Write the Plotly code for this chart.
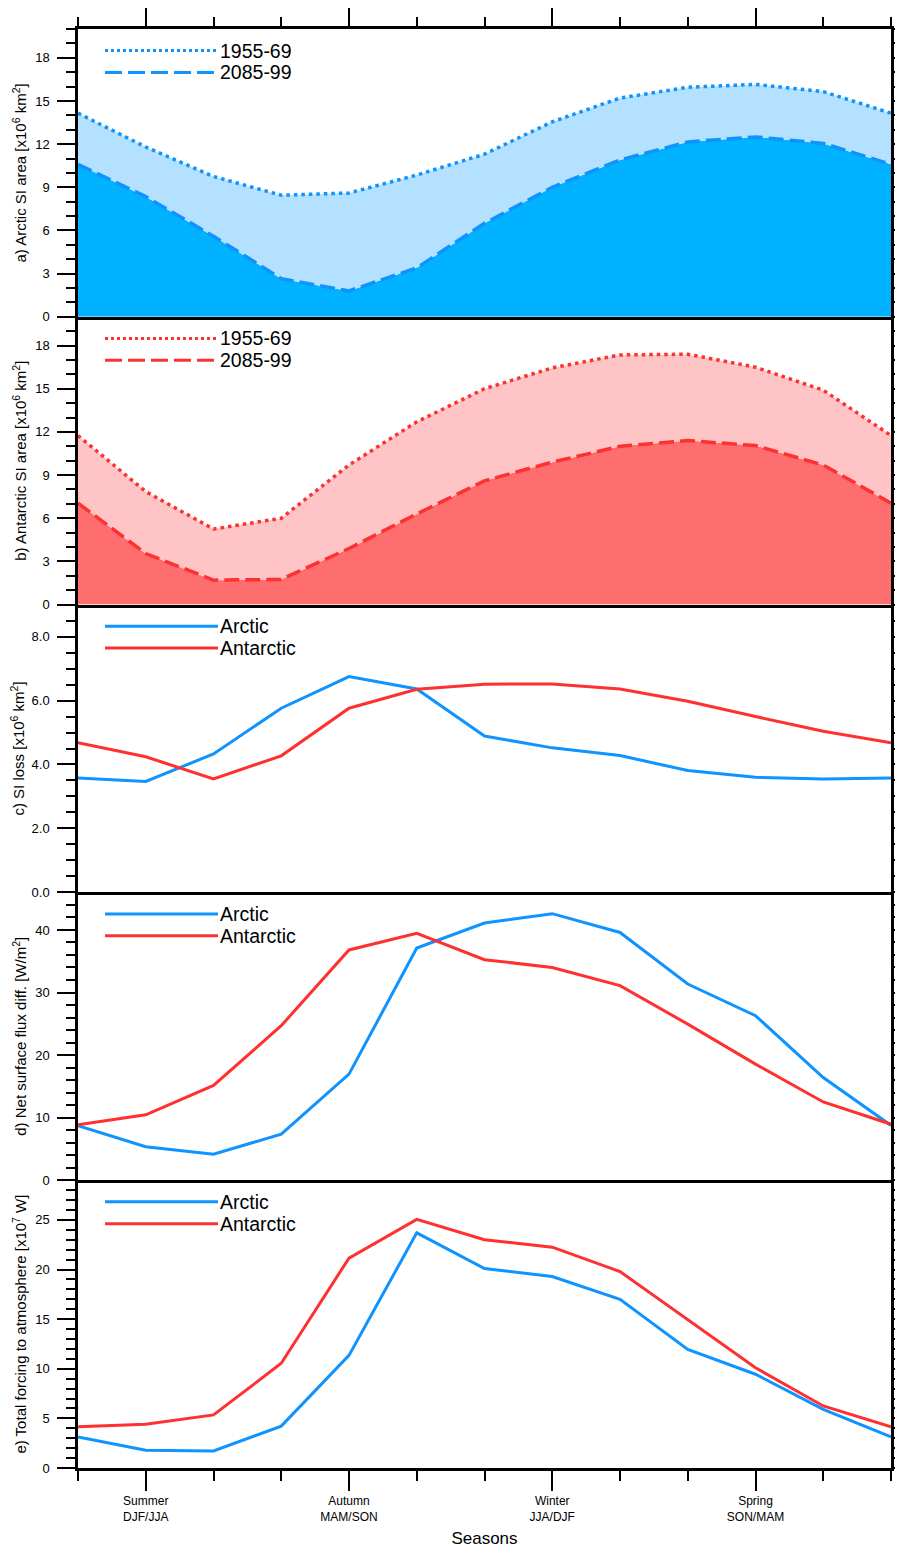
import plotly.graph_objects as go

# ---------------- data ----------------
x_idx = list(range(13))
season_tickvals = [1, 4, 7, 10]
season_ticktext = ["Summer<br>DJF/JJA", "Autumn<br>MAM/SON", "Winter<br>JJA/DJF", "Spring<br>SON/MAM"]

arctic_1955 = [14.15, 11.8, 9.75, 8.45, 8.6, 9.85, 11.3, 13.55, 15.2, 15.95, 16.15, 15.65, 14.15]
arctic_2085 = [10.6, 8.35, 5.6, 2.65, 1.8, 3.4, 6.5, 9.0, 10.9, 12.15, 12.5, 12.05, 10.6]

antarctic_1955 = [11.75, 7.85, 5.25, 6.0, 9.7, 12.7, 15.0, 16.45, 17.35, 17.4, 16.5, 14.9, 11.75]
antarctic_2085 = [7.05, 3.55, 1.7, 1.75, 3.9, 6.3, 8.6, 9.9, 11.0, 11.4, 11.05, 9.7, 7.05]

si_loss_arctic = [3.58, 3.47, 4.33, 5.76, 6.75, 6.36, 4.89, 4.52, 4.28, 3.81, 3.6, 3.55, 3.58]
si_loss_antarctic = [4.68, 4.24, 3.55, 4.27, 5.76, 6.35, 6.51, 6.52, 6.36, 5.98, 5.5, 5.04, 4.68]

flux_arctic = [8.7, 5.35, 4.15, 7.35, 16.95, 37.1, 41.1, 42.6, 39.6, 31.35, 26.3, 16.4, 8.75]
flux_antarctic = [8.85, 10.45, 15.15, 24.7, 36.8, 39.45, 35.25, 34.0, 31.1, 24.95, 18.55, 12.5, 8.95]

forcing_arctic = [3.13, 1.8, 1.72, 4.22, 11.35, 23.7, 20.1, 19.3, 17.0, 11.95, 9.45, 5.9, 3.13]
forcing_antarctic = [4.15, 4.4, 5.35, 10.55, 21.15, 25.05, 23.0, 22.25, 19.8, 14.95, 10.1, 6.25, 4.15]

y_titles = [
    "a) Arctic SI area [x10<sup>6</sup> km<sup>2</sup>]",
    "b) Antarctic SI area [x10<sup>6</sup> km<sup>2</sup>]",
    "c) SI loss [x10<sup>6</sup> km<sup>2</sup>]",
    "d) Net surface flux diff. [W/m<sup>2</sup>]",
    "e) Total forcing to atmosphere [x10<sup>7</sup> W]",
]
y_ranges = [[0, 20], [0, 20], [0, 9], [0, 46], [0, 29]]
y_dticks = [3, 3, 2, 10, 5]
y_minor = [1, 1, 0.5, 2, 1]
y_formats = ["d", "d", ".1f", "d", "d"]

period_labels = ["1955-69", "2085-99"]
region_labels = ["Arctic", "Antarctic"]

# ---------------- styles ----------------
FONT = "Liberation Sans, Arial, Helvetica, sans-serif"
BLUE = "#0F93FF"
BLUE_DARK_FILL = "#00B2FF"
BLUE_LIGHT_FILL = "#B3E1FF"
RED = "#FF3030"
RED_DARK_FILL = "#FF6E6E"
RED_LIGHT_FILL = "#FFC5C6"
DOT = "3.5px,4px"
DASH = "15px,6px"
LEG_DOT = "3px,3px"
LEG_DASH = "17px,6px"

fig = go.Figure()


def ax(k, s):
    return s if k == 0 else f"{s}{k+1}"


# panel a
fig.add_trace(go.Scatter(x=x_idx, y=arctic_2085, mode="lines", fill="tozeroy",
                         fillcolor=BLUE_DARK_FILL, line=dict(color=BLUE, width=3.5, dash=DASH),
                         xaxis="x", yaxis="y", showlegend=False))
fig.add_trace(go.Scatter(x=x_idx, y=arctic_1955, mode="lines", fill="tonexty",
                         fillcolor=BLUE_LIGHT_FILL, line=dict(color=BLUE, width=3.5, dash=DOT),
                         xaxis="x", yaxis="y", showlegend=False))
# panel b
fig.add_trace(go.Scatter(x=x_idx, y=antarctic_2085, mode="lines", fill="tozeroy",
                         fillcolor=RED_DARK_FILL, line=dict(color=RED, width=3.5, dash=DASH),
                         xaxis="x2", yaxis="y2", showlegend=False))
fig.add_trace(go.Scatter(x=x_idx, y=antarctic_1955, mode="lines", fill="tonexty",
                         fillcolor=RED_LIGHT_FILL, line=dict(color=RED, width=3.5, dash=DOT),
                         xaxis="x2", yaxis="y2", showlegend=False))
# panels c-e
for k, (arc, ant) in zip([2, 3, 4], [(si_loss_arctic, si_loss_antarctic),
                                      (flux_arctic, flux_antarctic),
                                      (forcing_arctic, forcing_antarctic)]):
    fig.add_trace(go.Scatter(x=x_idx, y=arc, mode="lines", line=dict(color=BLUE, width=3),
                             xaxis=ax(k, "x"), yaxis=ax(k, "y"), showlegend=False))
    fig.add_trace(go.Scatter(x=x_idx, y=ant, mode="lines", line=dict(color=RED, width=3),
                             xaxis=ax(k, "x"), yaxis=ax(k, "y"), showlegend=False))

# page body has an 8px margin: size/margins chosen so the plot box lands at x 78-891, y 29-1468
layout = dict(
    width=895, height=1540,
    margin=dict(l=70, r=12, t=21, b=80, autoexpand=False),
    paper_bgcolor="white", plot_bgcolor="white",
    font=dict(family=FONT, color="black", size=13),
    shapes=[], annotations=[],
)

n = 5
for k in range(n):
    top = 1 - k / n
    bot = 1 - (k + 1) / n
    xa = dict(domain=[0, 1], range=[0, 12], anchor=ax(k, "y"), showgrid=False, zeroline=False,
              showline=True, linecolor="black", linewidth=2.5, mirror=False, automargin=False,
              tickmode="array", tickvals=season_tickvals, ticktext=season_ticktext)
    if k > 0:
        xa["matches"] = "x"
    if k == 0:
        xa.update(side="top", mirror=True, ticks="outside", ticklen=19, tickwidth=2,
                  tickcolor="black", showticklabels=False,
                  minor=dict(ticks="outside", ticklen=9, tickwidth=1.5, tickcolor="black",
                             tickmode="array", tickvals=x_idx))
    elif k == n - 1:
        xa.update(ticks="outside", ticklen=20, tickwidth=2, tickcolor="black",
                  showticklabels=True, tickfont=dict(size=12, family=FONT),
                  minor=dict(ticks="outside", ticklen=10, tickwidth=1.5, tickcolor="black",
                             tickmode="array", tickvals=x_idx),
                  title=dict(text="Seasons", font=dict(size=17, family=FONT), standoff=12))
    else:
        xa.update(ticks="", showticklabels=False)
    ya = dict(domain=[bot, top], range=y_ranges[k], anchor=ax(k, "x"), showgrid=False,
              zeroline=False, showline=True, linecolor="black", linewidth=2.5, mirror="ticks",
              automargin=False,
              ticks="outside", ticklen=18, tickwidth=2, tickcolor="black",
              tick0=0, dtick=y_dticks[k], tickformat=y_formats[k],
              tickfont=dict(size=13, family=FONT), ticklabelstandoff=5,
              minor=dict(ticks="outside", ticklen=9, tickwidth=1.5, tickcolor="black",
                         tick0=0, dtick=y_minor[k]),
              title=dict(text=y_titles[k], font=dict(size=15, family=FONT), standoff=5))
    layout[ax(k, "xaxis")] = xa
    layout[ax(k, "yaxis")] = ya

# in-panel legends
leg_x0, leg_x1, leg_tx = 0.0332, 0.1722, 0.1725
leg_rows = [0.925, 0.849]
legend_specs = [
    (period_labels, [(BLUE, LEG_DOT), (BLUE, LEG_DASH)]),
    (period_labels, [(RED, LEG_DOT), (RED, LEG_DASH)]),
    (region_labels, [(BLUE, "solid"), (RED, "solid")]),
    (region_labels, [(BLUE, "solid"), (RED, "solid")]),
    (region_labels, [(BLUE, "solid"), (RED, "solid")]),
]
for k, (labels, styles) in enumerate(legend_specs):
    xr = ax(k, "x") + " domain"
    yr = ax(k, "y") + " domain"
    for r, (lab, (col, dash)) in enumerate(zip(labels, styles)):
        layout["shapes"].append(dict(type="line", xref=xr, yref=yr,
                                     x0=leg_x0, x1=leg_x1, y0=leg_rows[r], y1=leg_rows[r],
                                     line=dict(color=col, width=3, dash=dash)))
        layout["annotations"].append(dict(text=lab, xref=xr, yref=yr, x=leg_tx, y=leg_rows[r],
                                          xanchor="left", yanchor="middle", showarrow=False,
                                          font=dict(size=19.5, family=FONT, color="black")))

fig.update_layout(**layout)
fig.write_html("out.html")
